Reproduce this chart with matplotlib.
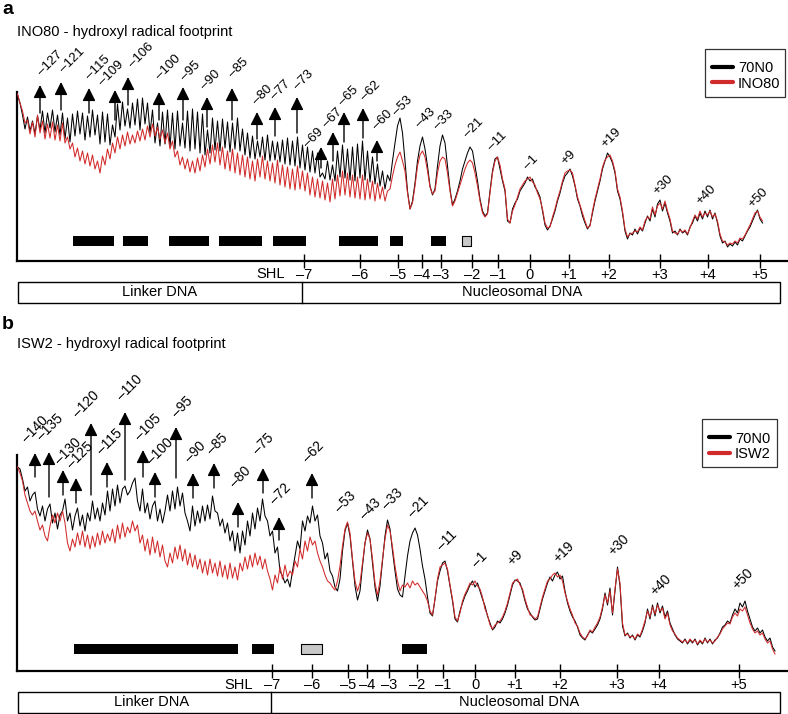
import numpy as np
import matplotlib
matplotlib.use('Agg')
import matplotlib.pyplot as plt
from matplotlib.patches import Rectangle
from matplotlib.lines import Line2D

plt.rcParams['font.family'] = ['Liberation Sans', 'DejaVu Sans']

W, H = 788, 714
RED = '#d12a2a'
X0, STEP = 17.5, 2.5   # traces are sampled every 2.5 gel units from 17.5

# ---------------- panel a : INO80 ----------------
# trace heights, one line = 10 samples (25 gel units)
a_black = [
    166, 158, 146, 132, 144, 130, 140, 127, 145, 131,
    150, 128, 148, 133, 151, 129, 146, 126, 148, 122,
    143, 119, 147, 125, 150, 127, 148, 121, 145, 124,
    151, 126, 146, 117, 149, 119, 147, 116, 136, 124,
    157, 131, 159, 135, 152, 133, 158, 136, 162, 131,
    163, 137, 158, 128, 151, 118, 138, 115, 149, 117,
    151, 114, 148, 112, 150, 115, 138, 113, 150, 110,
    152, 112, 149, 108, 147, 106, 131, 108, 143, 111,
    140, 110, 142, 113, 139, 109, 138, 112, 143, 110,
    132, 106, 128, 103, 125, 102, 120, 104, 124, 101,
    126, 100, 120, 101, 119, 99, 121, 97, 123, 96,
    120, 95, 124, 93, 116, 91, 114, 89, 110, 88,
    108, 84, 88, 82, 100, 81, 96, 80, 110, 84,
    116, 83, 112, 81, 114, 80, 117, 83, 120, 81,
    110, 79, 104, 77, 97, 75, 90, 72, 86, 80,
    100, 118, 135, 143, 128, 100, 70, 52, 60, 78,
    100, 115, 124, 112, 95, 75, 66, 72, 95, 115,
    126, 118, 95, 72, 56, 62, 70, 80, 92, 100,
    108, 114, 110, 95, 80, 62, 50, 45, 48, 70,
    90, 102, 104, 92, 80, 70, 40, 38, 52, 58,
    62, 70, 74, 78, 84, 80, 82, 74, 70, 64,
    50, 36, 31, 35, 42, 50, 60, 68, 78, 85,
    88, 92, 85, 75, 62, 55, 45, 38, 32, 36,
    48, 60, 70, 80, 92, 100, 108, 104, 98, 88,
    70, 62, 48, 30, 22, 28, 26, 32, 27, 33,
    30, 38, 45, 40, 52, 44, 57, 61, 50, 58,
    48, 40, 28, 30, 26, 32, 28, 30, 26, 34,
    38, 45, 40, 48, 42, 50, 44, 51, 42, 48,
    38, 25, 18, 20, 14, 17, 15, 19, 16, 22,
    20, 25, 30, 34, 40, 46, 51, 42, 38,
]
a_red = [
    167, 158, 150, 138, 141, 127, 139, 124, 146, 128,
    140, 122, 137, 123, 139, 121, 136, 120, 138, 118,
    124, 112, 118, 104, 113, 100, 110, 97, 108, 95,
    106, 92, 100, 88, 105, 96, 112, 102, 118, 108,
    124, 112, 126, 115, 129, 117, 126, 118, 130, 120,
    132, 121, 135, 124, 137, 125, 134, 122, 131, 118,
    128, 112, 120, 104, 110, 96, 104, 92, 102, 89,
    100, 88, 103, 90, 106, 94, 112, 97, 116, 99,
    118, 96, 114, 92, 110, 90, 112, 88, 108, 86,
    106, 84, 104, 82, 100, 80, 102, 84, 105, 82,
    100, 80, 98, 78, 101, 76, 96, 74, 94, 72,
    92, 71, 95, 72, 90, 70, 88, 66, 84, 64,
    82, 63, 80, 61, 78, 59, 82, 62, 86, 65,
    90, 66, 88, 64, 86, 63, 84, 62, 86, 61,
    82, 62, 80, 60, 78, 62, 74, 60, 70, 72,
    85, 96, 104, 109, 100, 90, 68, 52, 58, 75,
    95, 106, 110, 104, 90, 74, 67, 70, 88, 100,
    104, 102, 88, 70, 55, 60, 68, 76, 84, 92,
    98, 101, 98, 88, 75, 60, 48, 44, 47, 68,
    88, 100, 104, 96, 82, 72, 42, 38, 50, 56,
    64, 72, 76, 80, 82, 84, 79, 76, 68, 62,
    52, 38, 33, 34, 44, 52, 62, 70, 80, 88,
    90, 91, 88, 76, 64, 56, 48, 40, 33, 35,
    50, 62, 72, 82, 94, 101, 104, 106, 100, 90,
    72, 64, 50, 32, 24, 27, 28, 30, 29, 34,
    31, 40, 44, 42, 54, 46, 55, 58, 52, 60,
    50, 42, 30, 28, 27, 31, 29, 31, 27, 33,
    40, 46, 42, 50, 44, 48, 46, 50, 44, 47,
    40, 27, 20, 19, 16, 18, 17, 20, 18, 23,
    22, 26, 31, 36, 42, 48, 50, 44, 40,
]
a_shl_pos = [304, 360, 398, 422, 441, 472, 498, 530, 569, 609, 660, 708, 760]
shl_labels = ['–7', '–6', '–5', '–4', '–3', '–2', '–1', '0', '+1', '+2', '+3', '+4', '+5']
a_bars = [(73, 114), (123, 148), (169, 209), (219, 262), (273, 306),
          (339, 378), (390, 403), (431, 446)]
a_gray = [(462, 471)]
a_linker_end = 302

# protected sites: arrow position, arrow head / tail height
a_arrow_site = ['–127', '–121', '–115', '–109', '–106', '–100', '–95', '–90', '–85',
                '–80', '–77', '–73', '–69', '–67', '–65', '–62', '–60']
a_arrow_x = [40, 61, 89, 115, 128, 159, 183, 207, 232, 257, 275, 297, 321, 333, 344, 363, 377]
a_arrow_head = [176, 179, 173, 171, 184, 169, 174, 164, 173, 149, 154, 164, 114, 129, 149, 153, 121]
a_arrow_tail = [148, 151, 148, 141, 156, 141, 141, 134, 141, 122, 125, 128, 93, 100, 119, 123, 100]
# every label (arrowed and plain peaks) with its anchor
a_lab = a_arrow_site + ['–53', '–43', '–33', '–21', '–11', '–1', '+9', '+19', '+30', '+40', '+50']
a_lab_x = [42, 64, 90, 103, 133, 160, 185, 205, 233, 257, 275, 298, 308, 327, 343, 365, 377,
           397, 420, 438, 468, 492, 528, 565, 605, 657, 700, 752]
a_lab_y = [183, 186, 179, 173, 191, 179, 178, 169, 181, 154, 159, 169, 111, 131, 153, 158, 129,
           143, 131, 129, 121, 108, 89, 94, 111, 64, 54, 51]

# ---------------- panel b : ISW2 ----------------
b_black = [
    204, 202, 192, 180, 184, 170, 176, 179, 162, 155,
    165, 150, 162, 167, 148, 158, 142, 156, 160, 172,
    150, 158, 141, 155, 163, 145, 156, 140, 158, 150,
    170, 152, 163, 150, 168, 156, 180, 160, 182, 165,
    186, 168, 182, 185, 176, 180, 188, 193, 170, 160,
    182, 158, 168, 152, 165, 170, 150, 162, 148, 160,
    176, 160, 180, 162, 184, 165, 178, 158, 150, 140,
    165, 145, 160, 148, 165, 150, 166, 152, 175, 160,
    158, 145, 152, 138, 148, 130, 140, 120, 138, 118,
    140, 126, 150, 135, 158, 142, 163, 150, 172, 155,
    150, 135, 140, 118, 124, 100, 95, 88, 92, 84,
    100, 115, 130, 122, 150, 140, 155, 148, 165, 150,
    156, 135, 128, 112, 118, 100, 95, 84, 80, 92,
    120, 140, 148, 135, 110, 85, 71, 80, 105, 128,
    141, 132, 108, 84, 70, 85, 110, 135, 151, 142,
    120, 100, 82, 76, 74, 95, 115, 130, 138, 143,
    136, 122, 105, 92, 74, 58, 55, 72, 90, 100,
    108, 110, 100, 85, 70, 52, 49, 60, 68, 75,
    80, 86, 90, 84, 88, 80, 72, 65, 55, 48,
    41, 44, 50, 48, 52, 58, 66, 76, 86, 91,
    90, 88, 80, 70, 62, 58, 54, 51, 52, 62,
    72, 80, 88, 94, 90, 96, 99, 92, 95, 80,
    68, 60, 54, 50, 44, 36, 33, 31, 36, 40,
    38, 42, 46, 52, 62, 78, 66, 83, 56, 80,
    104, 85, 45, 35, 38, 33, 36, 31, 36, 34,
    40, 48, 62, 52, 66, 55, 68, 58, 65, 54,
    60, 48, 42, 36, 32, 30, 28, 32, 27, 31,
    28, 32, 26, 30, 27, 33, 28, 32, 27, 31,
    33, 38, 44, 46, 50, 48, 56, 62, 58, 68,
    64, 70, 60, 52, 44, 40, 43, 38, 41, 34,
    30, 33, 24, 20,
]
b_red = [
    204, 198, 190, 176, 168, 160, 156, 160, 150, 141,
    146, 135, 130, 145, 156, 148, 158, 150, 160, 148,
    128, 120, 132, 124, 138, 126, 140, 124, 136, 122,
    135, 124, 138, 126, 140, 128, 137, 130, 142, 128,
    146, 132, 148, 134, 144, 138, 150, 140, 146, 128,
    136, 120, 132, 116, 134, 118, 130, 114, 126, 110,
    104, 118, 108, 124, 112, 126, 110, 122, 106, 118,
    104, 116, 102, 112, 98, 110, 96, 112, 98, 108,
    95, 110, 94, 106, 92, 108, 93, 104, 91, 108,
    100, 114, 102, 116, 104, 118, 106, 115, 102, 112,
    100, 92, 81, 96, 88, 104, 92, 106, 94, 100,
    96, 110, 104, 122, 112, 130, 120, 134, 126, 130,
    118, 110, 104, 96, 90, 88, 84, 81, 90, 105,
    125, 142, 149, 138, 112, 90, 80, 88, 108, 128,
    138, 132, 112, 88, 76, 90, 112, 132, 146, 140,
    124, 105, 90, 80, 86, 84, 88, 83, 90, 86,
    88, 84, 80, 76, 70, 60, 56, 72, 92, 104,
    106, 108, 102, 86, 72, 54, 50, 58, 70, 77,
    82, 88, 86, 90, 85, 82, 74, 62, 56, 46,
    42, 46, 48, 50, 54, 60, 68, 78, 88, 90,
    92, 86, 82, 72, 64, 56, 55, 52, 54, 64,
    74, 82, 90, 92, 96, 98, 94, 96, 90, 78,
    70, 62, 56, 48, 45, 38, 34, 32, 35, 41,
    39, 44, 48, 54, 64, 76, 68, 80, 58, 82,
    102, 88, 48, 36, 37, 34, 35, 32, 37, 35,
    42, 50, 60, 54, 64, 57, 66, 60, 63, 52,
    58, 46, 40, 37, 33, 31, 29, 31, 28, 32,
    29, 31, 27, 31, 28, 32, 29, 31, 28, 30,
    34, 37, 42, 45, 48, 47, 54, 58, 55, 62,
    60, 64, 56, 48, 42, 38, 40, 36, 38, 32,
    28, 30, 22, 17,
]
b_shl_pos = [272, 312, 348, 367, 389, 417, 443, 475, 515, 560, 617, 659, 739]
b_bars = [(74, 238), (252, 274), (402, 427)]
b_gray = [(301, 322)]
b_linker_end = 271

b_arrow_site = ['–140', '–135', '–130', '–125', '–120', '–115', '–110', '–105', '–100',
                '–95', '–90', '–85', '–80', '–75', '–72', '–62']
b_arrow_x = [35, 49, 63, 76, 91, 107, 125, 143, 155, 176, 193, 214, 238, 263, 279, 312]
b_arrow_head = [218, 219, 201, 193, 248, 209, 259, 221, 199, 244, 198, 208, 169, 203, 154, 198]
b_arrow_tail = [194, 174, 176, 168, 176, 184, 191, 194, 174, 193, 173, 183, 144, 178, 131, 173]
b_lab = b_arrow_site + ['–53', '–43', '–33', '–21', '–11', '–1', '+9', '+19', '+30', '+40', '+50']
b_lab_x = [27, 42, 60, 72, 78, 102, 122, 140, 152, 177, 190, 212, 235, 258, 275, 308,
           340, 365, 387, 413, 442, 477, 512, 558, 613, 655, 737]
b_lab_y = [226, 228, 204, 200, 251, 214, 268, 228, 204, 251, 206, 214, 181, 214, 164, 206,
           156, 149, 159, 151, 118, 101, 103, 106, 113, 73, 79]


def px_axes(fig, left, top, right, bottom):
    return fig.add_axes([left / W, 1 - bottom / H, (right - left) / W, (bottom - top) / H])


def draw_legend(fig, box, names, row_y):
    # hand-placed legend box (pixel layout of the original figure)
    l, t, r, b = box
    fig.add_artist(Rectangle((l / W, 1 - b / H), (r - l) / W, (b - t) / H, fill=False,
                             lw=0.9, edgecolor='#333333', transform=fig.transFigure))
    for name, color, y in zip(names, ['black', RED], row_y):
        fig.add_artist(Line2D([(l + 7) / W, (l + 28) / W], [1 - y / H, 1 - y / H],
                              color=color, lw=3, solid_capstyle='round',
                              transform=fig.transFigure))
        fig.text((l + 33) / W, 1 - y / H, name, fontsize=10.5, va='center_baseline')


def draw_panel(ax, ytop, black, red, shl_pos, bars, gray, bar_y, linker_end,
               arrow_x, arrow_head, arrow_tail, labs, lab_x, lab_y, lab_size, shl_y):
    xb = X0 + STEP * np.arange(len(black))
    xr = X0 + STEP * np.arange(len(red))
    ax.plot(xb, black, color='black', lw=0.75, zorder=2)
    ax.plot(xr, red, color=RED, lw=0.75, zorder=3)
    ax.set_xlim(17, 787)
    ax.set_ylim(0, ytop)
    for s in ['top', 'right']:
        ax.spines[s].set_visible(False)
    for s in ['left', 'bottom']:
        ax.spines[s].set_linewidth(1.6)
    ax.set_yticks([])
    ax.set_xticks(shl_pos, shl_labels)
    ax.tick_params(axis='x', direction='inout', length=10, width=1, pad=0, labelsize=10.5)
    ax.text(shl_pos[0] - 33, shl_y, 'SHL', ha='center', va='center', fontsize=10.5, clip_on=False)

    ax.broken_barh([(s, e - s) for s, e in bars], (bar_y, 10), facecolors='black')
    ax.broken_barh([(s, e - s) for s, e in gray], (bar_y, 10), facecolors='#c8c8c8',
                   edgecolors='black', linewidth=0.8)

    # linker / nucleosomal DNA box under the axis
    ax.add_patch(Rectangle((18, -42), 762, 21, fill=False, lw=1.0, clip_on=False))
    ax.plot([linker_end, linker_end], [-42, -21], color='black', lw=1.0, clip_on=False)

    for x, h0, h1 in zip(arrow_x, arrow_tail, arrow_head):
        ax.annotate('', xy=(x, h1), xytext=(x, h0), annotation_clip=False,
                    arrowprops=dict(arrowstyle='-|>,head_length=0.6,head_width=0.3',
                                    color='black', lw=1.0, shrinkA=0, shrinkB=0,
                                    mutation_scale=13))
    for s, x, y in zip(labs, lab_x, lab_y):
        ax.text(x + 2, y, s, rotation=45, rotation_mode='anchor', ha='left', va='bottom',
                fontsize=lab_size, clip_on=False)


fig = plt.figure(figsize=(W / 100, H / 100), dpi=100)

ax_a = px_axes(fig, 17, 92, 787, 261)
draw_panel(ax_a, 169, a_black, a_red, a_shl_pos, a_bars, a_gray, 15, a_linker_end,
           a_arrow_x, a_arrow_head, a_arrow_tail, a_lab, a_lab_x, a_lab_y, 9.5, -13)
ax_a.text(160, -31.5, 'Linker DNA', ha='center', va='center', fontsize=10.5, clip_on=False)
ax_a.text(522, -31.5, 'Nucleosomal DNA', ha='center', va='center', fontsize=10.5, clip_on=False)

ax_b = px_axes(fig, 17, 455, 787, 671)
draw_panel(ax_b, 216, b_black, b_red, b_shl_pos, b_bars, b_gray, 17, b_linker_end,
           b_arrow_x, b_arrow_head, b_arrow_tail, b_lab, b_lab_x, b_lab_y, 10, -14)
ax_b.text(152, -31.5, 'Linker DNA', ha='center', va='center', fontsize=10.5, clip_on=False)
ax_b.text(519, -31.5, 'Nucleosomal DNA', ha='center', va='center', fontsize=10.5, clip_on=False)

# panel letters and titles
fig.text(2 / W, 1 - 14 / H, 'a', fontsize=14, fontweight='bold', va='baseline')
fig.text(17 / W, 1 - 36 / H, 'INO80 - hydroxyl radical footprint', fontsize=10.5, va='baseline')
fig.text(2 / W, 1 - 329 / H, 'b', fontsize=14, fontweight='bold', va='baseline')
fig.text(17 / W, 1 - 348 / H, 'ISW2 - hydroxyl radical footprint', fontsize=10.5, va='baseline')

draw_legend(fig, (705, 49, 785, 97), ['70N0', 'INO80'], [67, 82])
draw_legend(fig, (702, 419, 777, 467), ['70N0', 'ISW2'], [437, 453])

fig.savefig('out.png', dpi=100)
